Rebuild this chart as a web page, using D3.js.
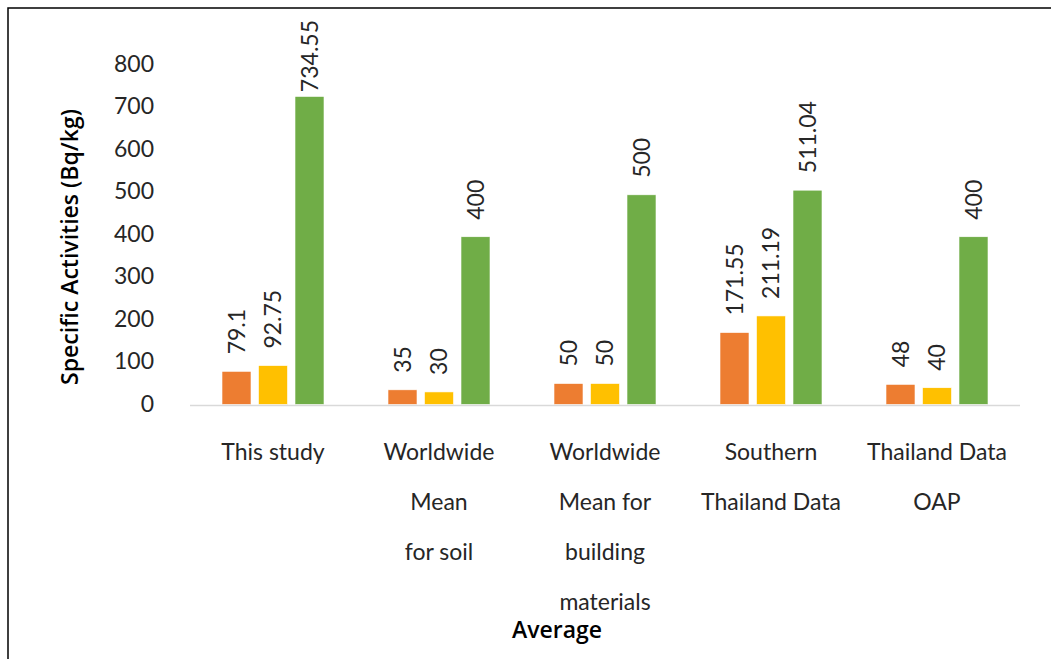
<!DOCTYPE html>
<html>
<head>
<meta charset="utf-8">
<script src="https://cdn.jsdelivr.net/npm/d3@7"></script>
<style>
  html, body { margin: 0; padding: 0; background: #fff; }
  svg { display: block; }
  .lbl { font-family: Lato, "Open Sans", "Noto Sans", sans-serif; font-weight: 400; fill: #262626; }
  .ttl { font-family: "Open Sans", "Noto Sans", sans-serif; font-weight: 600; fill: #000; }
</style>
</head>
<body>
<svg id="chart" width="1051" height="659"></svg>
<script>
// Average specific activities of radionuclides, by data source
const categories = ["This study", "Worldwide Mean for soil", "Worldwide Mean for building materials", "Southern Thailand Data", "Thailand Data OAP"];
const categoryLines = [
  ["This study"],
  ["Worldwide", "Mean", "for soil"],
  ["Worldwide", "Mean for", "building", "materials"],
  ["Southern", "Thailand Data"],
  ["Thailand Data", "OAP"]
];
const seriesNames = ["Ra-226", "Th-232", "K-40"];
const seriesA = [79.1, 35, 50, 171.55, 48];
const seriesB = [92.75, 30, 50, 211.19, 40];
const seriesC = [734.55, 400, 500, 511.04, 400];
const seriesColors = ["#ED7D31", "#FFC000", "#70AD47"];
const yTicks = [0, 100, 200, 300, 400, 500, 600, 700, 800];

const svg = d3.select("#chart");

// outer frame
svg.append("rect")
  .attr("x", 8).attr("y", 8).attr("width", 1200).attr("height", 800)
  .attr("fill", "none").attr("stroke", "#000").attr("stroke-width", 1.5);

const plot = { left: 190, right: 1020, top: 69, bottom: 404.5 };

const x0 = d3.scaleBand().domain(categories).range([plot.left, plot.right]).padding(0);
const x1 = d3.scaleBand().domain(seriesNames).range([32, 134]).paddingInner(0.2055).paddingOuter(0);
const y = d3.scaleLinear().domain([0, 800]).range([plot.bottom, plot.top]);
// tick labels sit on a slightly taller track than the bars
const yLab = d3.scaleLinear().domain([0, 800]).range([403, 63]);

// y tick labels
const yAxis = d3.axisLeft(yLab).tickValues(yTicks).tickSize(0).tickPadding(0).tickFormat(d3.format("d"));
const gy = svg.append("g").attr("transform", "translate(154,0)").call(yAxis);
gy.select(".domain").remove();
gy.selectAll("text").attr("class", "lbl").attr("font-size", 23).attr("dy", "0.35em").attr("fill", "#262626");

// bars
const rows = categories.map((c, i) => ({ cat: c, vals: [seriesA[i], seriesB[i], seriesC[i]] }));
const groups = svg.append("g").selectAll("g").data(rows).join("g")
  .attr("transform", d => `translate(${x0(d.cat)},0)`);

groups.selectAll("rect").data(d => d.vals.map((v, j) => ({ s: seriesNames[j], v, j })))
  .join("rect")
  .attr("x", d => x1(d.s))
  .attr("width", x1.bandwidth())
  .attr("y", d => y(d.v))
  .attr("height", d => y(0) - y(d.v))
  .attr("fill", d => seriesColors[d.j])
  .attr("stroke", "#fff").attr("stroke-width", 0.6);

// value labels, rotated; kept below the top of the chart area
const labelTop = 20;
groups.selectAll("text.val").data(d => d.vals.map((v, j) => ({ s: seriesNames[j], v, j })))
  .join("text")
  .attr("class", "val lbl")
  .attr("font-size", 23)
  .attr("text-anchor", "start")
  .attr("dy", "0.35em")
  .text(d => d.v)
  .attr("transform", function (d) {
    const len = this.getComputedTextLength();
    const start = Math.max(y(d.v) - 17, labelTop + len);
    return `translate(${x1(d.s) + x1.bandwidth() / 2},${start}) rotate(-90)`;
  });

// category axis line
svg.append("line")
  .attr("x1", plot.left).attr("x2", plot.right)
  .attr("y1", plot.bottom + 1).attr("y2", plot.bottom + 1)
  .attr("stroke", "#d9d9d9").attr("stroke-width", 1.5);

// category labels
const catG = svg.append("g");
categories.forEach((c, i) => {
  const cx = x0(c) + x0.bandwidth() / 2;
  const t = catG.append("text").attr("class", "lbl").attr("font-size", 23)
    .attr("text-anchor", "middle");
  categoryLines[i].forEach((ln, k) => {
    t.append("tspan").attr("x", cx).attr("y", 452 + k * 50).attr("dy", "0.35em").text(ln);
  });
});

// axis titles
svg.append("text").attr("class", "ttl").attr("font-size", 23)
  .attr("text-anchor", "middle")
  .attr("transform", "translate(70,247) rotate(-90)")
  .attr("dy", "0.35em")
  .text("Specific Activities (Bq/kg)");

svg.append("text").attr("class", "ttl").attr("font-size", 23)
  .attr("text-anchor", "middle")
  .attr("x", 557).attr("y", 630).attr("dy", "0.35em")
  .text("Average");
</script>
</body>
</html>
